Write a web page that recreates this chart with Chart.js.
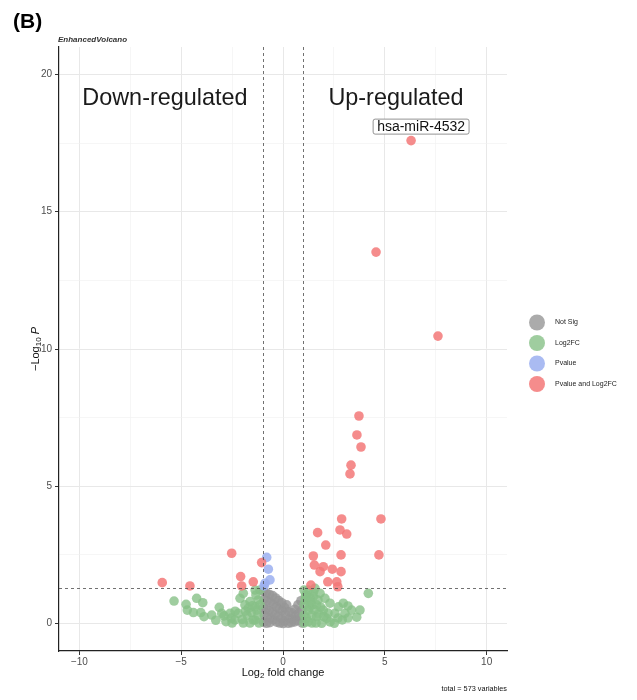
<!DOCTYPE html>
<html>
<head>
<meta charset="utf-8">
<script src="https://cdn.jsdelivr.net/npm/chart.js@4.4.0/dist/chart.umd.min.js"></script>
<style>
  body { margin: 0; background: #fff; }
</style>
</head>
<body>
<canvas id="volcano" width="637" height="700"></canvas>
<script>
// group names as in the legend
var groupNames = ['Not Sig', 'Log2FC', 'Pvalue', 'Pvalue and Log2FC'];

// [log2 fold change, -log10 p]
var notSig = [
  [-0.96, 1.18], [-0.93, 0.88], [-0.97, 0.57], [-0.92, 0.31], [-0.95, 0.04],
  [-0.82, 1.12], [-0.79, 0.83], [-0.84, 0.52], [-0.78, 0.24], [-0.81, 0.01],
  [-0.66, 1.06], [-0.63, 0.78], [-0.68, 0.47], [-0.61, 0.19], [-0.65, 0.03],
  [-0.51, 1.02], [-0.48, 0.71], [-0.53, 0.42], [-0.47, 0.13],
  [-0.36, 0.93], [-0.33, 0.62], [-0.38, 0.33], [-0.31, 0.05],
  [-0.21, 0.84], [-0.18, 0.53], [-0.23, 0.27], [-0.16, 0.02],
  [-0.06, 0.76], [-0.03, 0.47], [-0.08, 0.19], [0.01, 0.0],
  [0.08, 0.58], [0.12, 0.32], [0.06, 0.09], [0.18, 0.68],
  [0.28, 0.43], [0.33, 0.18], [0.26, 0.01],
  [0.44, 0.39], [0.48, 0.14], [0.41, 0.03],
  [0.58, 0.52], [0.62, 0.27], [0.57, 0.06],
  [0.73, 0.68], [0.77, 0.38], [0.71, 0.11],
  [0.88, 0.83], [0.92, 0.49], [0.86, 0.21], [0.94, 0.02]
];

var log2fcOnly = [
  [-5.35, 0.82], [-4.76, 0.70], [-4.24, 0.92], [-3.94, 0.76], [-4.70, 0.49],
  [-4.40, 0.40], [-4.04, 0.40], [-3.88, 0.25], [-3.50, 0.31], [-3.13, 0.59],
  [-3.01, 0.37], [-2.60, 0.37], [-2.80, 0.07], [-2.36, 0.13], [-2.11, 0.92],
  [-1.95, 1.10], [-1.62, 0.80], [-1.70, 0.56], [-2.20, 0.37], [-1.95, 0.02],
  [-1.46, 0.13], [-1.29, 0.49], [-1.21, 0.86], [-1.33, 1.04], [-1.13, 1.22],
  [-1.37, 1.22], [-1.37, 0.61], [-1.37, 0.13], [-1.77, 0.31], [-1.62, 0.02],
  [-1.23, 0.31], [-1.13, 0.68], [-1.18, 0.02], [-2.50, 0.02], [-1.87, 0.68],
  [-2.55, 0.20], [-2.35, 0.45], [-2.00, 0.15], [-1.85, 0.45], [-1.55, 0.40],
  [-1.50, 0.65], [-2.90, 0.28], [-3.30, 0.12],
  [4.19, 1.10], [2.96, 0.74], [3.37, 0.49], [3.78, 0.49], [3.62, 0.23],
  [2.91, 0.13], [2.52, 0.01], [2.55, 0.37], [2.31, 0.74], [2.06, 0.92],
  [1.82, 1.10], [1.57, 1.28], [1.24, 1.22], [1.08, 0.86], [1.24, 0.49],
  [1.24, 0.07], [1.65, 0.25], [1.90, 0.01], [1.98, 0.49], [1.65, 0.68],
  [1.49, 0.98], [2.72, 0.61], [3.04, 0.37], [2.15, 0.19], [1.03, 1.22],
  [1.03, 0.68], [1.03, 0.31], [1.03, 0.02], [1.33, 0.93], [1.42, 0.31],
  [1.42, 0.68], [1.72, 0.86], [1.13, 1.04], [2.21, 0.38], [2.31, 0.06],
  [1.42, 0.02], [1.62, 0.02], [2.70, 0.20], [3.19, 0.20], [3.19, 0.64],
  [1.15, 0.20], [1.30, 0.60], [1.55, 0.50], [1.75, 0.35], [1.85, 0.60],
  [2.00, 0.25], [1.10, 1.00], [1.50, 1.15], [1.35, 0.80]
];

var pvalueOnly = [
  [-0.80, 2.41], [-0.72, 1.98], [-0.64, 1.59], [-0.88, 1.47], [-0.93, 1.37]
];

var pvalueAndFC = [
  [6.29, 17.59], [4.57, 13.53], [7.61, 10.47], [3.73, 7.56], [3.63, 6.87],
  [3.83, 6.43], [3.34, 5.77], [3.29, 5.45], [4.81, 3.81], [2.88, 3.81],
  [2.80, 3.41], [3.13, 3.26], [1.70, 3.31], [2.10, 2.86], [1.49, 2.46],
  [2.85, 2.50], [4.71, 2.50], [1.54, 2.13], [1.98, 2.07], [1.82, 1.89],
  [2.42, 1.98], [2.85, 1.89], [2.20, 1.52], [2.64, 1.52], [2.69, 1.34],
  [1.37, 1.40], [-2.52, 2.56], [-1.05, 2.22], [-2.08, 1.71], [-2.03, 1.37],
  [-1.46, 1.52], [-5.93, 1.49], [-4.57, 1.37]
];

var labelled = { name: 'hsa-miR-4532', x: 6.29, y: 17.59 };
var fcCutoff = 1;
var pCutoff = -Math.log10(0.05);
var totalVariables = 573;

var FONT = '"Liberation Sans", Arial, Helvetica, sans-serif';
var colours = ['rgba(150,150,150,0.8)', 'rgba(135,192,135,0.8)', 'rgba(155,175,240,0.85)', 'rgba(243,120,120,0.85)'];

function toPoints(arr) {
  return arr.map(function (p) { return { x: p[0], y: p[1] }; });
}

var groups = [notSig, log2fcOnly, pvalueOnly, pvalueAndFC];
// first dataset is drawn on top in Chart.js, so reverse
var datasets = groups.map(function (g, i) {
  return {
    label: groupNames[i],
    data: toPoints(g),
    backgroundColor: colours[i],
    borderWidth: 0,
    pointRadius: 4.8,
    pointHoverRadius: 4.8
  };
}).reverse();

// text drawn in pieces (for subscripts / italic)
function drawParts(ctx, parts, cx, cy) {
  var total = 0;
  parts.forEach(function (p) {
    ctx.font = (p.italic ? 'italic ' : '') + p.size + 'px ' + FONT;
    p.w = ctx.measureText(p.t).width;
    total += p.w;
  });
  var x = cx - total / 2;
  ctx.textAlign = 'left';
  ctx.textBaseline = 'middle';
  parts.forEach(function (p) {
    ctx.font = (p.italic ? 'italic ' : '') + p.size + 'px ' + FONT;
    ctx.fillText(p.t, x, cy + (p.dy || 0));
    x += p.w;
  });
}

var extras = {
  id: 'extras',
  afterDatasetsDraw: function (chart) {
    var ctx = chart.ctx, a = chart.chartArea;
    var xs = chart.scales.x, ys = chart.scales.y;
    ctx.save();
    ctx.strokeStyle = '#4d4d4d';
    ctx.lineWidth = 0.8;
    ctx.setLineDash([3, 3]);
    [-fcCutoff, fcCutoff].forEach(function (v) {
      var px = Math.round(xs.getPixelForValue(v)) + 0.5;
      ctx.beginPath(); ctx.moveTo(px, a.top); ctx.lineTo(px, a.bottom); ctx.stroke();
    });
    var py = Math.round(ys.getPixelForValue(pCutoff)) + 0.5;
    ctx.beginPath(); ctx.moveTo(a.left, py); ctx.lineTo(a.right, py); ctx.stroke();
    ctx.restore();
  },
  afterDraw: function (chart) {
    var ctx = chart.ctx;
    var xs = chart.scales.x, ys = chart.scales.y;
    ctx.save();

    // panel letter and subtitle
    ctx.fillStyle = '#000';
    ctx.textAlign = 'left';
    ctx.textBaseline = 'alphabetic';
    ctx.font = 'bold 21px ' + FONT;
    ctx.fillText('(B)', 13, 28);
    ctx.fillStyle = '#333';
    ctx.font = 'italic bold 8px ' + FONT;
    ctx.fillText('EnhancedVolcano', 58, 42);

    // region annotations
    ctx.fillStyle = '#1a1a1a';
    ctx.font = '23.4px ' + FONT;
    ctx.textAlign = 'center';
    ctx.textBaseline = 'middle';
    ctx.fillText('Down-regulated', xs.getPixelForValue(-5.8), ys.getPixelForValue(19.12));
    ctx.fillText('Up-regulated', xs.getPixelForValue(5.55), ys.getPixelForValue(19.12));

    // boxed label
    var lx = xs.getPixelForValue(labelled.x) + 10;
    var ly = ys.getPixelForValue(labelled.y) - 14;
    ctx.font = '14px ' + FONT;
    var tw = ctx.measureText(labelled.name).width;
    var bw = tw + 8, bh = 15;
    ctx.beginPath();
    ctx.roundRect(lx - bw / 2, ly - bh / 2, bw, bh, 2);
    ctx.fillStyle = '#fff';
    ctx.fill();
    ctx.strokeStyle = '#777';
    ctx.lineWidth = 0.8;
    ctx.stroke();
    ctx.fillStyle = '#111';
    ctx.fillText(labelled.name, lx, ly + 0.5);

    // axis titles
    ctx.fillStyle = '#111';
    drawParts(ctx, [
      { t: 'Log', size: 11 }, { t: '2', size: 8, dy: 3 }, { t: ' fold change', size: 11 }
    ], (chart.chartArea.left + chart.chartArea.right) / 2, 673);
    ctx.save();
    ctx.translate(36, (chart.chartArea.top + chart.chartArea.bottom) / 2);
    ctx.rotate(-Math.PI / 2);
    drawParts(ctx, [
      { t: '\u2212Log', size: 11 }, { t: '10', size: 8, dy: 3 }, { t: ' ', size: 11 }, { t: 'P', size: 11, italic: true }
    ], 0, 0);
    ctx.restore();

    // legend
    groupNames.forEach(function (name, i) {
      var cy = 322.5 + i * 20.5;
      ctx.beginPath();
      ctx.arc(537, cy, 8, 0, Math.PI * 2);
      ctx.fillStyle = colours[i];
      ctx.fill();
      ctx.fillStyle = '#222';
      ctx.font = '7px ' + FONT;
      ctx.textAlign = 'left';
      ctx.textBaseline = 'middle';
      ctx.fillText(name, 555, cy);
    });

    // caption
    ctx.fillStyle = '#111';
    ctx.font = '7.3px ' + FONT;
    ctx.textAlign = 'right';
    ctx.textBaseline = 'middle';
    ctx.fillText('total = ' + totalVariables + ' variables', 507, 689);

    ctx.restore();
  }
};

function isMajor(c) {
  return c.tick && Math.abs(c.tick.value % 5) < 1e-9;
}

var gridOpts = {
  color: function (c) { return isMajor(c) ? '#e8e8e8' : '#f0f0f0'; },
  lineWidth: function (c) { return isMajor(c) ? 1 : 0.6; },
  tickColor: function (c) { return isMajor(c) ? '#333' : 'rgba(0,0,0,0)'; },
  tickLength: 4,
  tickWidth: 1
};

function tickLabel(v) {
  return Math.abs(v % 5) < 1e-9 ? String(v).replace('-', '\u2212') : '';
}

var ctx = document.getElementById('volcano').getContext('2d');
var volcano = new Chart(ctx, {
  type: 'scatter',
  data: { datasets: datasets },
  plugins: [extras],
  options: {
    responsive: false,
    animation: false,
    events: [],
    layout: { padding: { top: 47, right: 130, left: 0, bottom: 0 } },
    plugins: {
      legend: { display: false },
      tooltip: { enabled: false }
    },
    scales: {
      x: {
        type: 'linear',
        min: -11,
        max: 11,
        grid: gridOpts,
        border: { display: true, color: '#222', width: 1.2 },
        ticks: {
          stepSize: 2.5,
          includeBounds: false,
          autoSkip: false,
          maxRotation: 0,
          padding: 1,
          color: '#4d4d4d',
          font: { size: 10, family: FONT },
          callback: tickLabel
        },
        afterFit: function (s) { s.height = 49; }
      },
      y: {
        type: 'linear',
        min: -1,
        max: 21,
        grid: gridOpts,
        border: { display: true, color: '#222', width: 1.2 },
        ticks: {
          stepSize: 2.5,
          includeBounds: false,
          autoSkip: false,
          padding: 3,
          color: '#4d4d4d',
          font: { size: 10, family: FONT },
          callback: tickLabel
        },
        afterFit: function (s) { s.width = 59; }
      }
    }
  }
});
</script>
</body>
</html>
